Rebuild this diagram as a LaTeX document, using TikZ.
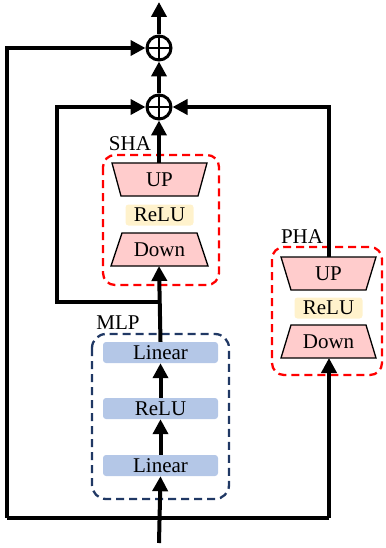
\documentclass[tikz,border=0pt]{standalone}
\usepackage{fontspec}
\setmainfont{Liberation Serif}
\usetikzlibrary{arrows.meta}
\definecolor{trpink}{HTML}{FFCCCC}
\definecolor{reluyel}{HTML}{FFF2CC}
\definecolor{linblue}{HTML}{B4C7E7}
\definecolor{navy}{HTML}{203864}
\definecolor{dred}{HTML}{FF0000}
\begin{document}
\begin{tikzpicture}[x=1pt,y=-1pt,
  font=\fontsize{21}{24}\selectfont,
  arr/.style={line width=4pt,-{Triangle[length=15pt,width=15pt]}},
  wire/.style={line width=4pt},
  trap/.style={fill=trpink,draw=black,line width=1.3pt,line join=miter},
  relubox/.style={fill=reluyel,rounded corners=3pt,minimum width=68pt,minimum height=21pt,inner sep=0pt},
  linbox/.style={fill=linblue,rounded corners=3pt,minimum width=115pt,minimum height=21pt,inner sep=0pt},
  redgrp/.style={draw=dred,line width=2.3pt,dash pattern=on 8pt off 5pt,rounded corners=12pt},
  navygrp/.style={draw=navy,line width=2.3pt,dash pattern=on 8pt off 5pt,rounded corners=14pt},
  lbl/.style={inner sep=0pt},
  sumnode/.style={circle,draw=black,line width=3pt,minimum size=24pt,inner sep=0pt,
    path picture={\draw[line width=2pt] (path picture bounding box.north) -- (path picture bounding box.south)
      (path picture bounding box.west) -- (path picture bounding box.east);}}
]
\useasboundingbox (0,0) rectangle (385,548);

% group boxes
\draw[redgrp] (103,155) rectangle (219,285);
\draw[redgrp] (272,247) rectangle (382,375);
\draw[navygrp] (92,334) rectangle (229,499);
\node[lbl] (shalbl) at (130,144) {SHA};
\node[lbl] (phalbl) at (302,237) {PHA};
\node[lbl] (mlplbl) at (118,323) {MLP};

% SHA trapezoids
\draw[trap] (112,163) -- (207,163) -- (198,196) -- (121,196) -- cycle;
\node[lbl] (shaup) at (159.5,180) {UP};
\node[relubox] (sharelu) at (159.5,215) {ReLU};
\draw[trap] (122,233) -- (197,233) -- (208,266) -- (111,266) -- cycle;
\node[lbl] (shadown) at (159.5,250) {Down};
\coordinate (shaupT) at (159,163);
\coordinate (shadownB) at (159,266);

% PHA trapezoids
\draw[trap] (281,257) -- (376,257) -- (366,290) -- (291,290) -- cycle;
\node[lbl] (phaup) at (328.5,274) {UP};
\node[relubox] (pharelu) at (328.5,308) {ReLU};
\draw[trap] (291,325) -- (366,325) -- (376,358) -- (281,358) -- cycle;
\node[lbl] (phadown) at (328.5,342) {Down};
\coordinate (phaupT) at (329,257);
\coordinate (phadownB) at (329,358);

% MLP
\node[linbox] (lin1) at (160.5,352.5) {Linear};
\node[linbox] (mrelu) at (160.5,408.5) {ReLU};
\node[linbox] (lin2) at (160.5,465.5) {Linear};

% sums
\node[sumnode] (s1) at (159,48) {};
\node[sumnode] (s2) at (159,107) {};
\coordinate (out) at (159,2);
\coordinate (in) at (159,543);
\coordinate (split) at (159,518);
\coordinate (branch) at (159,302);
\coordinate (outerL) at (7,518);
\coordinate (innerL) at (57,302);
\coordinate (rightB) at (329,518);

% connectors
\draw[arr] (in) -- (lin2.south);
\draw[arr] (lin2.north) -- (mrelu.south);
\draw[arr] (mrelu.north) -- (lin1.south);
\draw[arr] (lin1.north) -- (shadownB);
\draw[arr] (shaupT) -- (s2.south);
\draw[arr] (s2.north) -- (s1.south);
\draw[arr] (s1.north) -- (out);
\draw[arr] (outerL) -- (outerL |- s1) -- (s1.west);
\draw[wire] (outerL) -- (rightB);
\draw[arr] (rightB) -- (phadownB);
\draw[arr] (branch) -- (innerL) -- (innerL |- s2) -- (s2.west);
\draw[arr] (phaupT) -- (phaupT |- s2) -- (s2.east);
\end{tikzpicture}
\end{document}
